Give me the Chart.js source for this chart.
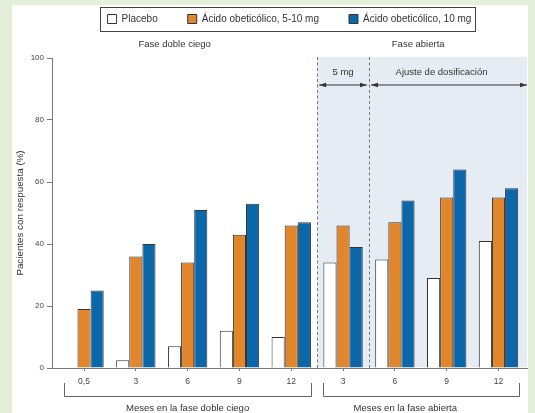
<!DOCTYPE html>
<html>
<head>
<meta charset="utf-8">
<script src="https://cdn.jsdelivr.net/npm/chart.js@4/dist/chart.umd.min.js"></script>
<style>
  html, body { margin: 0; padding: 0; background: #e4efd9; }
</style>
</head>
<body>
<canvas id="respChart" width="535" height="413"></canvas>
<script>
// data
const groupLabels = ["0,5", "3", "6", "9", "12", "3", "6", "9", "12"];
const placebo = [null, 2.5, 7, 12, 10, 34, 35, 29, 41];
const oca510 = [19, 36, 34, 43, 46, 46, 47, 55, 55];
const oca10 = [25, 40, 51, 53, 47, 39, 54, 64, 58];
const seriesNames = ["Placebo", "Ácido obeticólico, 5-10 mg", "Ácido obeticólico, 10 mg"];
const yTicks = [0, 20, 40, 60, 80, 100];
const phaseLabels = ["Fase doble ciego", "Fase abierta"];
const periodLabels = ["Meses en la fase doble ciego", "Meses en la fase abierta"];

const FONT = "'Liberation Sans', Arial, sans-serif";
const X_MIN = -0.618, X_MAX = 8.55;

Chart.defaults.font.family = FONT;
Chart.defaults.color = '#333';

function pts(arr) {
  return arr.map((v, i) => ({ x: i, y: v }));
}

function arrow(ctx, xa, xb, yy) {
  ctx.strokeStyle = '#333';
  ctx.fillStyle = '#333';
  ctx.lineWidth = 1;
  ctx.beginPath();
  ctx.moveTo(xa, yy);
  ctx.lineTo(xb, yy);
  ctx.stroke();
  [[xa, 1], [xb, -1]].forEach(([px, d]) => {
    ctx.beginPath();
    ctx.moveTo(px, yy);
    ctx.lineTo(px + d * 7, yy - 2.2);
    ctx.lineTo(px + d * 7, yy + 2.2);
    ctx.closePath();
    ctx.fill();
  });
}

const decor = {
  id: 'decor',
  beforeDraw(chart) {
    const { ctx, width, height, chartArea: a, scales: { x, y } } = chart;
    ctx.save();
    ctx.fillStyle = '#e4efd9';
    ctx.fillRect(0, 0, width, height);
    ctx.fillStyle = '#fff';
    ctx.fillRect(12, 5, 516, height - 5);

    // open-label phase shading
    const x1 = x.getPixelForValue(4.5), x2 = x.getPixelForValue(5.5);
    ctx.fillStyle = '#e6ecf3';
    ctx.fillRect(x1, a.top - 1, a.right - x1, a.bottom - a.top);

    ctx.strokeStyle = '#777';
    ctx.lineWidth = 1;
    ctx.setLineDash([3, 2.5]);
    [x1, x2].forEach(px => {
      ctx.beginPath();
      ctx.moveTo(Math.round(px) + 0.5, a.top - 1);
      ctx.lineTo(Math.round(px) + 0.5, a.bottom);
      ctx.stroke();
    });
    ctx.setLineDash([]);

    const ay = y.getPixelForValue(91.3);
    arrow(ctx, x1 + 2, x2 - 2, ay);
    arrow(ctx, x2 + 2, a.right, ay);

    ctx.fillStyle = '#333';
    ctx.font = '9.5px ' + FONT;
    ctx.textAlign = 'center';
    ctx.textBaseline = 'middle';
    const ty = y.getPixelForValue(95.4);
    ctx.fillText('5 mg', (x1 + x2) / 2, ty);
    ctx.fillText('Ajuste de dosificación', x.getPixelForValue(6.9), ty);

    // x axis line runs a little past the y axis
    ctx.strokeStyle = '#777';
    ctx.beginPath();
    ctx.moveTo(a.left - 5, Math.round(a.bottom) + 0.5);
    ctx.lineTo(a.left, Math.round(a.bottom) + 0.5);
    ctx.stroke();
    ctx.restore();
  },
  afterDraw(chart) {
    const { ctx, chartArea: a, scales: { x } } = chart;
    ctx.save();
    // border around legend
    const hb = chart.legend.legendHitBoxes;
    if (hb && hb.length) {
      const last = hb[hb.length - 1];
      const l = Math.round(hb[0].left - 8) + 0.5;
      const r = Math.round(last.left + last.width + 4) + 0.5;
      const t = Math.round(hb[0].top - 7) + 0.5;
      const b = Math.round(hb[0].top + hb[0].height + 7) + 0.5;
      ctx.strokeStyle = '#444';
      ctx.lineWidth = 1;
      ctx.strokeRect(l, t, r - l, b - t);
    }
    // brackets under the month labels
    ctx.strokeStyle = '#666';
    ctx.lineWidth = 1;
    ctx.fillStyle = '#333';
    ctx.font = '9.5px ' + FONT;
    ctx.textAlign = 'center';
    ctx.textBaseline = 'middle';
    const textPos = [2, 6.2];
    [[0, 4], [5, 8]].forEach(([i0, i1], k) => {
      const xl = Math.round(x.getPixelForValue(i0 - 0.39)) + 0.5;
      const xr = Math.round(x.getPixelForValue(i1 + 0.39)) + 0.5;
      const yb = Math.round(a.bottom + 28) + 0.5;
      ctx.beginPath();
      ctx.moveTo(xl, a.bottom + 15);
      ctx.lineTo(xl, yb);
      ctx.lineTo(xr, yb);
      ctx.lineTo(xr, a.bottom + 15);
      ctx.stroke();
      ctx.fillText(periodLabels[k], x.getPixelForValue(textPos[k]), a.bottom + 40);
    });
    ctx.restore();
  }
};

const ctx = document.getElementById('respChart');
new Chart(ctx, {
  type: 'bar',
  data: {
    datasets: [
      { label: seriesNames[0], data: pts(placebo), backgroundColor: '#ffffff', borderColor: '#333', borderWidth: 1 },
      { label: seriesNames[1], data: pts(oca510), backgroundColor: '#e2862c', borderColor: '#333', borderWidth: 1 },
      { label: seriesNames[2], data: pts(oca10), backgroundColor: '#0a67aa', borderColor: '#333', borderWidth: 1 }
    ]
  },
  options: {
    responsive: false,
    animation: false,
    devicePixelRatio: 1,
    categoryPercentage: 0.76,
    barPercentage: 1.0,
    layout: { padding: { top: -16, left: 12, right: 8, bottom: 0 } },
    plugins: {
      legend: {
        display: true,
        position: 'top',
        fullSize: false,
        labels: { boxWidth: 9, boxHeight: 9, padding: 30, color: '#333', font: { size: 10 } }
      },
      tooltip: { enabled: false }
    },
    scales: {
      x: {
        type: 'linear',
        min: X_MIN,
        max: X_MAX,
        offset: false,
        afterBuildTicks: s => { s.ticks = groupLabels.map((_, i) => ({ value: i })); },
        ticks: {
          callback: (v, i) => groupLabels[i],
          autoSkip: false, maxRotation: 0,
          font: { size: 8.5 }, color: '#444', padding: 6
        },
        grid: { drawOnChartArea: false, offset: false, tickLength: 3, color: '#777' },
        border: { color: '#777' },
        afterFit: s => { s.height = 45; }
      },
      x2: {
        type: 'linear',
        position: 'top',
        min: X_MIN,
        max: X_MAX,
        offset: false,
        afterBuildTicks: s => { s.ticks = [{ value: 1.75 }, { value: 6.45 }]; },
        ticks: {
          callback: (v, i) => phaseLabels[i],
          autoSkip: false, maxRotation: 0,
          font: { size: 9.5 }, color: '#333', padding: 8
        },
        grid: { display: false, drawTicks: false, offset: false },
        border: { display: false },
        afterFit: s => { s.height = 24; }
      },
      y: {
        min: 0,
        max: 100,
        afterBuildTicks: s => { s.ticks = yTicks.map(v => ({ value: v })); },
        ticks: { font: { size: 8 }, color: '#444', padding: 3 },
        grid: { drawOnChartArea: false, tickLength: 5, color: '#777' },
        border: { color: '#777' },
        title: {
          display: true,
          text: 'Pacientes con respuesta (%)',
          font: { size: 9.8 }, color: '#333',
          padding: { top: 2, bottom: 0 }
        },
        afterFit: s => { s.width = 40; }
      }
    }
  },
  plugins: [decor]
});
</script>
</body>
</html>
